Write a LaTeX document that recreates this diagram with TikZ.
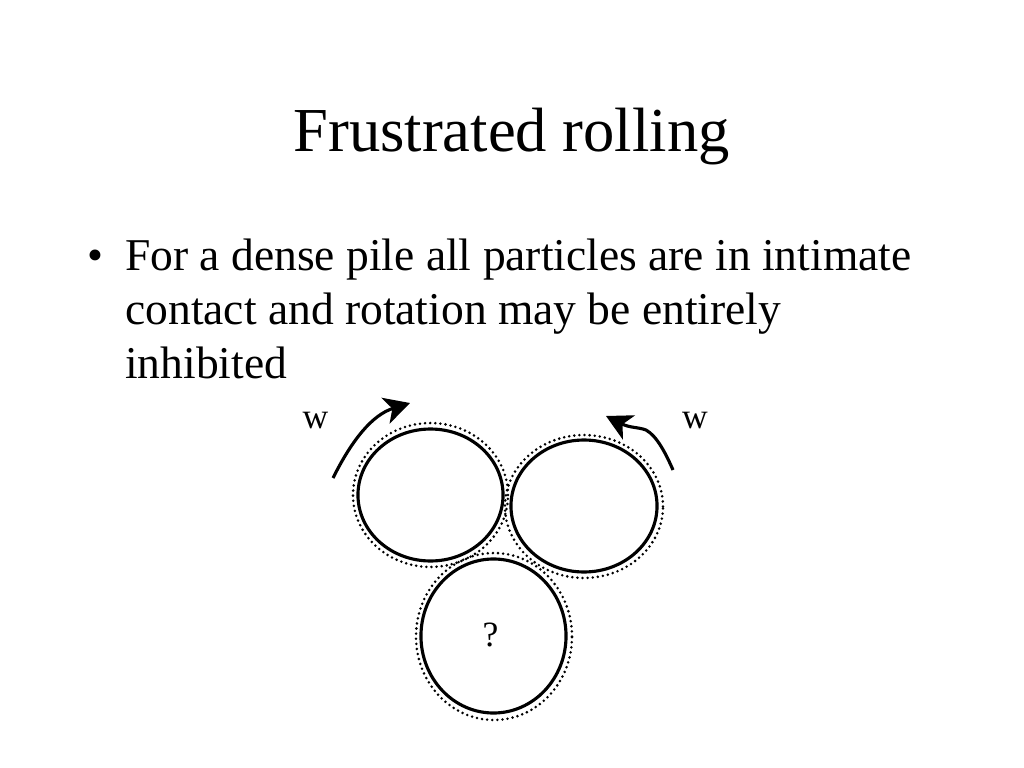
\documentclass[tikz,border=0pt]{standalone}
\usepackage{fontspec}
\setmainfont{Liberation Serif}
\usetikzlibrary{shapes.geometric,arrows.meta}
\begin{document}
\begin{tikzpicture}[x=0.703125pt,y=-0.703125pt,
  solid/.style={ellipse,draw,line width=2.2pt,inner sep=0pt},
  dots/.style={ellipse,draw,line width=2pt,dash pattern=on 0pt off 3.6pt,line cap=round,inner sep=0pt},
  arr/.style={line width=2.2pt,-{Stealth[length=18pt,width=19pt,inset=5pt]}},
  lbl/.style={font=\fontsize{25}{30}\selectfont,inner sep=0pt},
  body/.style={font=\fontsize{32}{38}\selectfont,anchor=base west,inner sep=0pt}]
\useasboundingbox[fill=white] (0,0) rectangle (1024,768);
% title
\node[font=\fontsize{44}{52}\selectfont,anchor=base,inner sep=0pt] (title) at (511.5,152) {Frustrated rolling};
% bullet text
\node[body] (bul) at (87,271) {•};
\node[body] (l1) at (125,271) {For a dense pile all particles are in intimate};
\node[body] (l2) at (125,324.5) {contact and rotation may be entirely};
\node[body] (l3) at (125,378) {inhibited};
% particles
\node[dots,minimum width=109pt,minimum height=101.2pt] (d1) at (430.5,495) {};
\node[solid,minimum width=102pt,minimum height=92.8pt] (p1) at (430.5,495) {};
\node[dots,minimum width=111.1pt,minimum height=100.5pt] (d2) at (584,506.5) {};
\node[solid,minimum width=102.7pt,minimum height=92.8pt] (p2) at (584,506) {};
\node[dots,minimum width=109.7pt,minimum height=117.4pt] (d3) at (494,636.5) {};
\node[solid,minimum width=102pt,minimum height=108.3pt] (p3) at (493.5,636) {};
\node[lbl] (q) at (490.5,634.5) {?};
% labels
\node[lbl] (w1) at (315.5,420.5) {w};
\node[lbl] (w2) at (695,420.5) {w};
% arrows
\coordinate (a1s) at (333,478);
\coordinate (a1e) at (410,403);
\coordinate (a2s) at (673,470);
\coordinate (a2m) at (646,430);
\coordinate (a2e) at (606,416);
\draw[arr] (a1s) .. controls (352,440) and (372,415) .. (a1e);
\draw[arr] (a2s) .. controls (666,454) and (657,436) .. (a2m) .. controls (638,427) and (630,428) .. (a2e);
\end{tikzpicture}
\end{document}
